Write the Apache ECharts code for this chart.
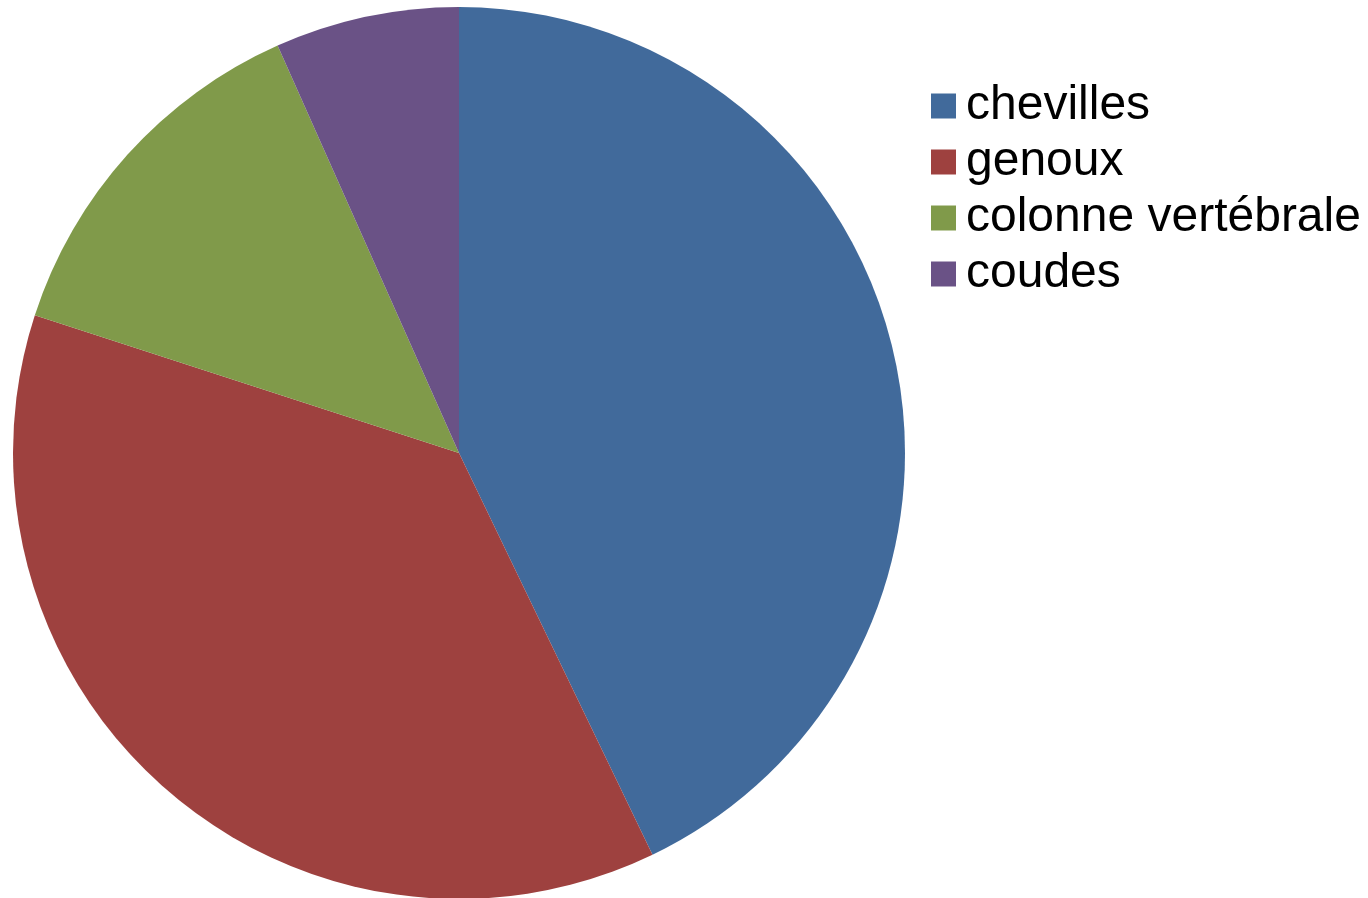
<!DOCTYPE html>
<html>
<head>
<meta charset="utf-8">
<script src="https://cdn.jsdelivr.net/npm/echarts@6/dist/echarts.min.js"></script>
<style>html,body{margin:0;padding:0;background:#fff}#c{width:1368px;height:898px}</style>
</head>
<body>
<div id="c"></div>
<script>
const categories = ["chevilles", "genoux", "colonne vertébrale", "coudes"];
const values = [45, 39, 14, 7];
const colors = ["#416A9B", "#9E413F", "#809A4A", "#6A5286"];

const chart = echarts.init(document.getElementById('c'), null, {renderer: 'canvas'});
chart.setOption({
  animation: false,
  color: colors,
  legend: {
    orient: 'vertical',
    left: 931,
    top: 82,
    padding: 0,
    icon: 'rect',
    itemWidth: 25,
    itemHeight: 25,
    itemGap: 8,
    data: categories,
    textStyle: {fontFamily: 'Liberation Sans, Arial, sans-serif', fontSize: 48, color: '#000', lineHeight: 25, padding: [14, 0, 0, 5]}
  },
  series: [{
    type: 'pie',
    center: [459, 453],
    radius: 446,
    startAngle: 90,
    clockwise: true,
    label: {show: false},
    labelLine: {show: false},
    emphasis: {disabled: true},
    itemStyle: {borderWidth: 0},
    data: categories.map((n, i) => ({name: n, value: values[i]}))
  }]
});
</script>
</body>
</html>
